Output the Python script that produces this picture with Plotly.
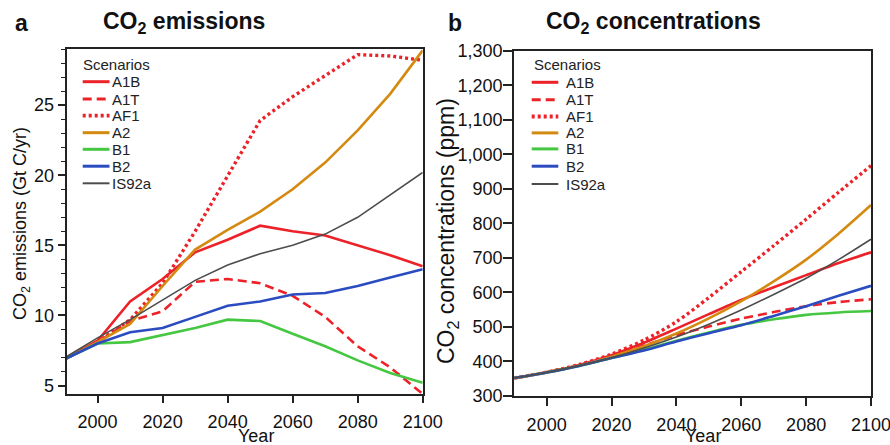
import plotly.graph_objects as go

# ---------------- data ----------------
years = [1990, 2000, 2010, 2020, 2030, 2040, 2050, 2060, 2070, 2080, 2090, 2100]
scenarios = ["A1B", "A1T", "AF1", "A2", "B1", "B2", "IS92a"]

# CO2 emissions (Gt C/yr)
em_A1B = [6.9, 8.2, 11.0, 12.6, 14.5, 15.4, 16.4, 16.0, 15.7, 15.0, 14.3, 13.5]
em_A1T = [6.9, 8.1, 9.6, 10.3, 12.4, 12.6, 12.3, 11.4, 9.9, 7.8, 6.3, 4.4]
em_AF1 = [6.9, 8.1, 9.7, 12.3, 16.0, 19.9, 23.9, 25.6, 27.1, 28.6, 28.5, 28.2]
em_A2 = [6.9, 8.1, 9.4, 12.1, 14.7, 16.1, 17.4, 19.0, 20.9, 23.2, 25.8, 28.9]
em_B1 = [6.9, 8.0, 8.1, 8.6, 9.1, 9.7, 9.6, 8.7, 7.8, 6.8, 5.9, 5.2]
em_B2 = [6.9, 8.0, 8.8, 9.1, 9.9, 10.7, 11.0, 11.5, 11.6, 12.1, 12.7, 13.3]
em_IS92a = [7.0, 8.4, 9.7, 11.1, 12.5, 13.6, 14.4, 15.0, 15.8, 17.0, 18.6, 20.2]

# CO2 concentrations (ppm)
co_A1B = [352, 369, 390, 418, 454, 495, 537, 578, 615, 650, 685, 716]
co_A1T = [352, 369, 389, 415, 446, 476, 501, 524, 543, 560, 572, 580]
co_AF1 = [352, 369, 391, 421, 462, 515, 585, 660, 735, 812, 890, 967]
co_A2 = [352, 369, 388, 414, 444, 481, 525, 575, 632, 695, 770, 853]
co_B1 = [352, 368, 387, 410, 434, 460, 484, 506, 522, 535, 542, 546]
co_B2 = [352, 368, 387, 410, 432, 458, 482, 505, 532, 560, 590, 619]
co_IS92a = [352, 368, 388, 411, 439, 471, 508, 549, 594, 641, 695, 754]

emissions = [em_A1B, em_A1T, em_AF1, em_A2, em_B1, em_B2, em_IS92a]
concentrations = [co_A1B, co_A1T, co_AF1, co_A2, co_B1, co_B2, co_IS92a]

x_ticks = [2000, 2020, 2040, 2060, 2080, 2100]
em_ticks = [5, 10, 15, 20, 25]
co_ticks = [300, 400, 500, 600, 700, 800, 900, 1000, 1100, 1200, 1300]

# ---------------- styles ----------------
RED = "#ec2228"
colors = [RED, RED, RED, "#d48a10", "#45c742", "#2b4cc0", "#4d4d4d"]
dashes = ["solid", "9px,5px", "3px,3px", "solid", "solid", "solid", "solid"]
widths = [2.6, 2.6, 3.4, 2.6, 2.6, 2.6, 1.6]

FONT = "Liberation Sans, Arial, Helvetica, sans-serif"
W, H = 890, 445


def px(x):
    return x / W


def py(y):
    return 1 - y / H


fig = go.Figure()

for name, em, co, c, d, w in zip(scenarios, emissions, concentrations, colors, dashes, widths):
    fig.add_trace(go.Scatter(x=years, y=em, xaxis="x", yaxis="y", mode="lines", name=name,
                             line=dict(color=c, dash=d, width=w), showlegend=False))
    fig.add_trace(go.Scatter(x=years, y=co, xaxis="x2", yaxis="y2", mode="lines", name=name,
                             line=dict(color=c, dash=d, width=w, shape="spline", smoothing=0.8),
                             showlegend=False))

axis_common = dict(showline=True, mirror=True, linecolor="#222", linewidth=2,
                   showgrid=False, zeroline=False, ticks="outside", tickcolor="#222",
                   tickwidth=1.5, automargin=False, ticklabeloverflow="allow",
                   tickfont=dict(size=18, color="#111", family=FONT))

fig.update_layout(
    template="none",
    width=W, height=H,
    margin=dict(l=0, r=0, t=0, b=0, pad=0),
    paper_bgcolor="white", plot_bgcolor="white",
    font=dict(family=FONT, color="#111"),
    xaxis=dict(domain=[px(66.7), px(422.7)], range=[1990.5, 2100], tickvals=x_ticks,
               ticklen=7, ticklabelstandoff=3, anchor="y", **axis_common),
    yaxis=dict(domain=[py(394), py(49)], range=[4.4, 29.0], tickvals=em_ticks,
               ticklen=7, anchor="x",
               minor=dict(dtick=1, ticks="outside", ticklen=4, tickcolor="#222", tickwidth=1.2),
               **axis_common),
    xaxis2=dict(domain=[px(514.2), px(871)], range=[1990, 2100], tickvals=x_ticks,
                ticklen=8, ticklabelstandoff=3, anchor="y2", **axis_common),
    yaxis2=dict(domain=[py(396), py(50.7)], range=[300, 1300], tickvals=co_ticks,
                tickformat=",", ticklen=9, ticklabelstandoff=-3, anchor="x2", **axis_common),
)

annotations = [
    dict(text="<b>a</b>", x=px(21), y=py(23), size=23),
    dict(text="<b>CO<sub>2</sub> emissions</b>", x=px(184), y=py(23), size=23),
    dict(text="<b>b</b>", x=px(455), y=py(23), size=23),
    dict(text="<b>CO<sub>2</sub> concentrations</b>", x=px(653), y=py(23), size=23),
    dict(text="Year", x=px(256), y=py(435.5), size=18),
    dict(text="Year", x=px(703), y=py(435.5), size=18),
    dict(text="CO<sub>2</sub> emissions (Gt C/yr)", x=px(21), y=py(224), size=18, angle=-90),
    dict(text="CO<sub>2</sub> concentrations (ppm)", x=px(447), y=py(231), size=23, angle=-90),
]
annotations = [dict(text=a["text"], x=a["x"], y=a["y"], textangle=a.get("angle", 0),
                    xref="paper", yref="paper", showarrow=False, xanchor="center",
                    yanchor="middle", font=dict(size=a["size"], color="#111", family=FONT))
               for a in annotations]

shapes = []
# manual legends (one in each panel)
legend_specs = [
    dict(title_x=81, title_y=64, line_x0=82.7, line_x1=109.5, text_x=110,
         ys=[81.7, 99.0, 115.7, 132.7, 149.3, 166.2, 183.3]),
    dict(title_x=532, title_y=64, line_x0=531.7, line_x1=558.3, text_x=564,
         ys=[82.3, 99.8, 116.5, 132.9, 148.9, 166.2, 184.0]),
]
for spec in legend_specs:
    annotations.append(dict(text="Scenarios", x=px(spec["title_x"]), y=py(spec["title_y"]),
                            xref="paper", yref="paper", showarrow=False, xanchor="left",
                            yanchor="middle", font=dict(size=15, color="#222", family=FONT)))
    for name, c, d, w, yy in zip(scenarios, colors, dashes, widths, spec["ys"]):
        shapes.append(dict(type="line", xref="paper", yref="paper",
                           x0=px(spec["line_x0"]), x1=px(spec["line_x1"]), y0=py(yy), y1=py(yy),
                           line=dict(color=c, dash=d, width=w + 0.4)))
        annotations.append(dict(text=name, x=px(spec["text_x"]), y=py(yy),
                                xref="paper", yref="paper", showarrow=False, xanchor="left",
                                yanchor="middle", font=dict(size=15, color="#222", family=FONT)))

fig.update_layout(annotations=annotations, shapes=shapes)

# remove the default page margin so the 890x445 figure fills the window exactly
fig.write_html("out.html", config={"displayModeBar": False},
               post_script="document.body.style.margin='0';document.body.style.overflow='hidden';")
